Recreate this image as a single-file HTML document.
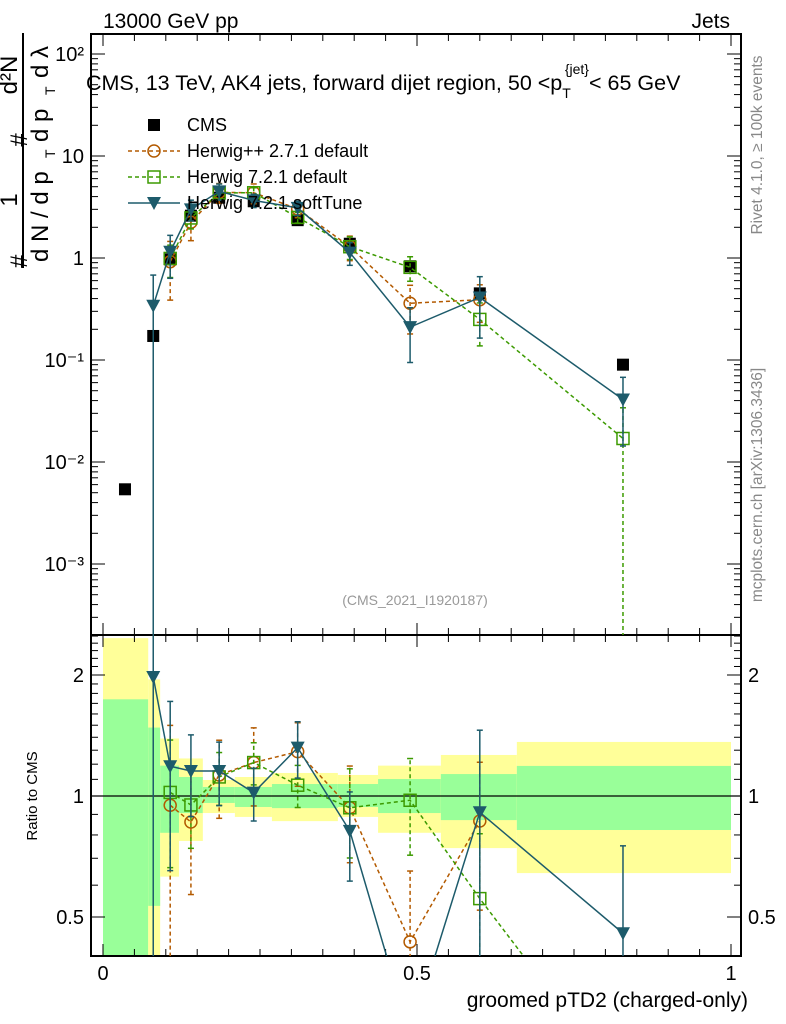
<!DOCTYPE html>
<html><head><meta charset="utf-8"><style>
html,body{margin:0;padding:0;background:#fff;width:786px;height:1024px;overflow:hidden;}
svg{display:block;font-family:"Liberation Sans",sans-serif;}
</style></head><body>
<svg id="c" width="786" height="1024" viewBox="0 0 786 1024"></svg>
<script>
const binEdges=[0,0.072,0.091,0.121,0.159,0.21,0.269,0.374,0.438,0.538,0.659,1.0];
const ptX=[0.035,0.080,0.107,0.140,0.185,0.240,0.310,0.393,0.489,0.600,0.828];
const cmsVals=[0.0054,0.172,0.97,2.6,3.9,3.6,2.35,1.38,0.83,0.45,0.09];
const hppVals=[null,null,0.92,2.24,4.4,4.36,3.03,1.29,0.36,0.39,null];
const hppErr=[0,0,0.58,0.34,0.22,0.22,0.18,0.27,0.5,0.4,0];
const h7Vals=[null,null,0.99,2.47,4.35,4.36,2.5,1.29,0.81,0.25,0.017];
const h7Err=[0,0,0.35,0.22,0.15,0.12,0.12,0.25,0.27,0.45,1.0];
const stVals=[null,0.34,1.15,3.0,4.5,3.67,3.1,1.13,0.21,0.41,0.041];
const stErr=[0,1.0,0.45,0.23,0.18,0.15,0.16,0.25,0.55,0.6,0.65];
const yelHi=[2.47,1.95,1.39,1.24,1.096,1.115,1.141,1.128,1.19,1.265,1.363];
const grnHi=[1.74,1.48,1.19,1.115,1.053,1.053,1.071,1.071,1.102,1.134,1.188];
const grnLo=[0.3,0.533,0.81,0.907,0.961,0.939,0.933,0.939,0.907,0.871,0.823];
const yelLo=[0.3,0.3,0.63,0.773,0.907,0.887,0.866,0.887,0.81,0.742,0.643];
const mainYTicks=[["10⁻³",-3],["10⁻²",-2],["10⁻¹",-1],["1",0],["10",1],["10²",2]];
const ratioTicks=[["0.5",0.5],["1",1],["2",2]];
const xTicks=[["0",0],["0.5",0.5],["1",1]];

const NS="http://www.w3.org/2000/svg";
const svg=document.getElementById('c');
function el(tag,attrs,parent,text){const e=document.createElementNS(NS,tag);for(const k in attrs)e.setAttribute(k,attrs[k]);if(text!==undefined)e.textContent=text;(parent||svg).appendChild(e);return e;}
const L=91,R=741,T=34,MB=635,RB=956;
const X=v=>103+v*628;
const Ym=v=>54+(2-Math.log10(v))*102;
const Yr=v=>796-Math.log2(v)*121;

const defs=el('defs',{});
const c1=el('clipPath',{id:'cm'},defs);el('rect',{x:L,y:T,width:R-L,height:MB-T},c1);
const c2=el('clipPath',{id:'cr'},defs);el('rect',{x:L,y:MB,width:R-L,height:RB-MB},c2);

const bands=el('g',{'clip-path':'url(#cr)'});

for(let i=0;i<yelHi.length;i++){
  const x0=X(binEdges[i]),x1=X(binEdges[i+1]);
  const y=el('rect',{x:x0,y:Yr(yelHi[i]),width:x1-x0,height:Yr(yelLo[i])-Yr(yelHi[i]),fill:'#ffff99'},bands);
  
  const g=el('rect',{x:x0,y:Yr(grnHi[i]),width:x1-x0,height:Yr(grnLo[i])-Yr(grnHi[i]),fill:'#99ff99'},bands);
  
}
el('line',{x1:L,x2:R,y1:796,y2:796,stroke:'#000','stroke-width':1.3});

el('rect',{x:L,y:T,width:R-L,height:MB-T,fill:'none',stroke:'#000','stroke-width':2,});
el('rect',{x:L,y:MB,width:R-L,height:RB-MB,fill:'none',stroke:'#000','stroke-width':2,});

for(let k=0;k<=20;k++){const v=k*0.05,x=X(v);const len=(k%10==0)?12:7;
  [T,MB].forEach(y=>el('line',{x1:x,x2:x,y1:y,y2:y+len,stroke:'#000','stroke-width':1}));
  [MB,RB].forEach(y=>el('line',{x1:x,x2:x,y1:y,y2:y-len,stroke:'#000','stroke-width':1}));
}
xTicks.forEach(([t,v])=>{const e=el('text',{x:X(v),y:980,'font-size':20,'text-anchor':'middle'},svg,t);});
el('text',{x:748,y:1007,'font-size':21,'text-anchor':'end',},svg,'groomed pTD2 (charged-only)');

for(let d=-4;d<=2;d++){for(let m=1;m<10;m++){const v=m*Math.pow(10,d),y=Ym(v);if(y<T||y>MB)continue;const len=m==1?14:7;
  el('line',{x1:L,x2:L+len,y1:y,y2:y,stroke:'#000'});el('line',{x1:R,x2:R-len,y1:y,y2:y,stroke:'#000'});}}
mainYTicks.forEach(([t,d])=>{const e=el('text',{x:84,y:Ym(Math.pow(10,d))+7,'font-size':20,'text-anchor':'end'},svg,t);});
for(let k=3;k<=25;k++){const v=k/10,y=Yr(v);if(y<MB||y>RB)continue;const maj=(v==0.5||v==1||v==2);const len=maj?14:7;
  el('line',{x1:L,x2:L+len,y1:y,y2:y,stroke:'#000'});el('line',{x1:R,x2:R-len,y1:y,y2:y,stroke:'#000'});}
ratioTicks.forEach(([t,v])=>{
  const a=el('text',{x:84,y:Yr(v)+7,'font-size':20,'text-anchor':'end'},svg,t);
  const b=el('text',{x:748,y:Yr(v)+7,'font-size':20},svg,t);});
el('text',{transform:'translate(37,796) rotate(-90)','font-size':15,'text-anchor':'middle',},svg,'Ratio to CMS');

el('text',{x:103,y:28,'font-size':21,},svg,'13000 GeV pp');
el('text',{x:730,y:28,'font-size':21,'text-anchor':'end',},svg,'Jets');
const tt=el('text',{x:86,y:90,'font-size':21.5,},svg);
tt.innerHTML='CMS, 13 TeV, AK4 jets, forward dijet region, 50 &lt;p<tspan font-size="14" dy="8">T</tspan><tspan font-size="14" dx="-6" dy="-24">{jet}</tspan><tspan dy="16">&lt; 65 GeV</tspan>';
el('text',{x:415,y:605,'font-size':14,fill:'#999','text-anchor':'middle',},svg,'(CMS_2021_I1920187)');
el('text',{transform:'translate(762,145) rotate(-90)','font-size':15.5,fill:'#888','text-anchor':'middle',},svg,'Rivet 4.1.0, ≥ 100k events');
el('text',{transform:'translate(762,485) rotate(-90)','font-size':15.5,fill:'#888','text-anchor':'middle',},svg,'mcplots.cern.ch [arXiv:1306.3436]');
const yt=el('g',{});
el('line',{x1:23,x2:23,y1:33,y2:268,stroke:'#000','stroke-width':2},yt);
el('text',{transform:'translate(27,268) rotate(-90)','font-size':24},yt,'#');
el('text',{transform:'translate(17,200) rotate(-90)','font-size':24,'text-anchor':'middle'},yt,'1');
el('text',{transform:'translate(27,140) rotate(-90)','font-size':24,'text-anchor':'middle'},yt,'#');
el('text',{transform:'translate(17,75) rotate(-90)','font-size':24,'text-anchor':'middle'},yt,'d²N');
el('text',{transform:'translate(48,262) rotate(-90)','font-size':24},yt,'d N / d p');
el('text',{transform:'translate(55,158) rotate(-90)','font-size':14},yt,'T');
el('text',{transform:'translate(48,142) rotate(-90)','font-size':24},yt,'d p');
el('text',{transform:'translate(55,95) rotate(-90)','font-size':14},yt,'T');
el('text',{transform:'translate(48,78) rotate(-90)','font-size':24},yt,'d λ');

function marker(g,type,x,y,col){
  if(type=='sq')el('rect',{x:x-6,y:y-6,width:12,height:12,fill:'#000'},g);
  else if(type=='circ')el('circle',{cx:x,cy:y,r:6,fill:'none',stroke:col,'stroke-width':1.5},g);
  else if(type=='osq')el('rect',{x:x-6,y:y-6,width:12,height:12,fill:'none',stroke:col,'stroke-width':1.5},g);
  else el('polygon',{points:`${x-7},${y-6} ${x+7},${y-6} ${x},${y+7}`,fill:col},g);
}
function series(name,vals,err,col,dash,type){
  const gm=el('g',{'clip-path':'url(#cm)'});
  const gr=el('g',{'clip-path':'url(#cr)'});
  let pm=[],pr=[];
  vals.forEach((v,i)=>{if(v==null)return;const x=X(ptX[i]);
    const lo=Math.max(v*(1-err[i]),1e-9),hi=v*(1+err[i]);
    const r=v/cmsVals[i],rlo=Math.max(r*(1-err[i]),1e-9),rhi=r*(1+err[i]);
    pm.push(x+','+Ym(v));pr.push(x+','+Yr(r));
    [[gm,Ym,lo,hi],[gr,Yr,rlo,rhi]].forEach(([g,f,a,b])=>{
      el('line',{x1:x,x2:x,y1:f(a),y2:f(b),stroke:col,'stroke-width':1.5,'stroke-dasharray':dash},g);
      el('line',{x1:x-3,x2:x+3,y1:f(a),y2:f(a),stroke:col,'stroke-width':1.5},g);
      el('line',{x1:x-3,x2:x+3,y1:f(b),y2:f(b),stroke:col,'stroke-width':1.5},g);});
  });
  el('polyline',{points:pm.join(' '),fill:'none',stroke:col,'stroke-width':1.5,'stroke-dasharray':dash},gm);
  el('polyline',{points:pr.join(' '),fill:'none',stroke:col,'stroke-width':1.5,'stroke-dasharray':dash},gr);
  vals.forEach((v,i)=>{if(v==null)return;const x=X(ptX[i]);
    const m1=el('g',{},gm);marker(m1,type,x,Ym(v),col);
    const m2=el('g',{},gr);marker(m2,type,x,Yr(v/cmsVals[i]),col);});
}
const gc=el('g',{'clip-path':'url(#cm)'});
cmsVals.forEach((v,i)=>{const p=el('g',{},gc);marker(p,'sq',X(ptX[i]),Ym(v),'#000');});
series('herwigpp-2-7-1',hppVals,hppErr,'#b35a00','4,3','circ');
series('herwig-7-2-1-default',h7Vals,h7Err,'#3c9a00','4,3','osq');
series('herwig-7-2-1-softtune',stVals,stErr,'#1d5b6b','','tri');

const lg=el('g',{});
const items=[['CMS','#000','','sq'],['Herwig++ 2.7.1 default','#b35a00','4,3','circ'],['Herwig 7.2.1 default','#3c9a00','4,3','osq'],['Herwig 7.2.1 softTune','#1d5b6b','','tri']];
items.forEach(([t,c,d,m],i)=>{const y=125+i*26;const g=el('g',{},lg);
  if(m!='sq')el('line',{x1:128,x2:180,y1:y,y2:y,stroke:c,'stroke-width':1.5,'stroke-dasharray':d},g);
  marker(g,m,154,y,c);el('text',{x:187,y:y+6,'font-size':18},g,t);});
</script>
</body></html>
